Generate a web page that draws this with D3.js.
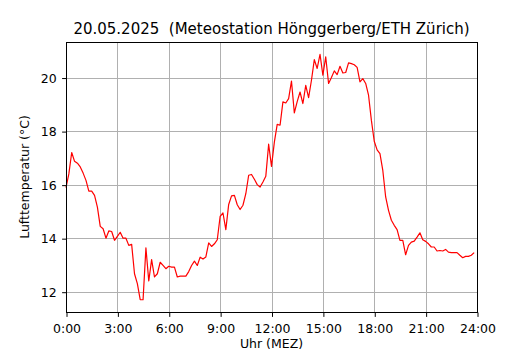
<!DOCTYPE html>
<html>
<head>
<meta charset="utf-8">
<script src="https://cdn.jsdelivr.net/npm/d3@7"></script>
<style>
  body { margin: 0; background: #fff; }
  svg text { font-family: "DejaVu Sans", sans-serif; fill: #000; white-space: pre; }
</style>
</head>
<body>
<div class="chart"></div>
<script>
// data: temperature every 10 minutes, 0:00 .. 23:50
var stepMinutes = 10;
var temps = [
	15.89, 16.40, 17.20, 16.87, 16.80, 16.66, 16.43, 16.16, 15.76, 15.76,
	15.60, 15.16, 14.44, 14.35, 14.00, 14.27, 14.25, 13.92, 14.07, 14.22,
	14.00, 14.00, 13.73, 13.77, 12.67, 12.30, 11.70, 11.70, 13.64, 12.40,
	13.20, 12.55, 12.67, 13.10, 12.98, 12.86, 12.95, 12.92, 12.92, 12.55,
	12.58, 12.58, 12.58, 12.75, 12.98, 13.14, 12.98, 13.29, 13.22, 13.30,
	13.82, 13.69, 13.79, 13.94, 14.81, 14.94, 14.32, 15.26, 15.58, 15.60,
	15.25, 15.07, 15.23, 15.66, 16.35, 16.38, 16.20, 16.00, 15.91, 16.10,
	16.31, 17.51, 16.68, 17.59, 18.25, 18.22, 19.09, 19.05, 19.21, 19.87,
	18.68, 19.10, 19.46, 19.03, 19.71, 19.25, 19.90, 20.67, 20.34, 20.87,
	20.09, 20.77, 19.78, 20.00, 20.25, 20.11, 20.42, 20.17, 20.19, 20.55,
	20.52, 20.48, 20.38, 19.84, 19.96, 19.78, 19.34, 18.40, 17.62, 17.30,
	17.16, 16.53, 15.54, 15.04, 14.67, 14.48, 14.32, 13.92, 13.92, 13.38,
	13.73, 13.85, 13.89, 14.04, 14.20, 13.94, 13.88, 13.79, 13.67, 13.67,
	13.52, 13.54, 13.52, 13.58, 13.48, 13.46, 13.46, 13.46, 13.36, 13.27,
	13.32, 13.32, 13.36, 13.46
];
var xTicks = [0, 3, 6, 9, 12, 15, 18, 21, 24];
var xTickLabels = ['0:00', '3:00', '6:00', '9:00', '12:00', '15:00', '18:00', '21:00', '24:00'];
var yTicks = [12, 14, 16, 18, 20];
var titleText = '20.05.2025  (Meteostation Hönggerberg/ETH Zürich)';
var xLabel = 'Uhr (MEZ)';
var yLabel = 'Lufttemperatur (°C)';

// options
var width = 530,
	height = 350;
var margin = { top: 42, right: 53, bottom: 38, left: 66 };
var plotW = width - margin.left - margin.right;
var plotH = height - margin.top - margin.bottom;
var lineColor = 'red';
var gridColor = '#b0b0b0';
var tickFont = 12.5;

var points = temps.map(function(t, i) {
	return { h: i * stepMinutes / 60, t: t };
});

// scales (matplotlib-like 5% padding on y)
var ext = d3.extent(temps);
var pad = (ext[1] - ext[0]) * 0.05;
var x = d3.scaleLinear().domain([0, 24]).range([0, plotW]);
var y = d3.scaleLinear().domain([ext[0] - pad, ext[1] + pad]).range([plotH, 0]);

var svg = d3.select('.chart')
	.append('svg')
	.attr('width', width)
	.attr('height', height);

var g = svg.append('g')
	.attr('transform', 'translate(' + margin.left + ',' + margin.top + ')');

// grid
g.append('g').attr('class', 'grid-x').selectAll('line')
	.data(xTicks)
	.enter()
	.append('line')
	.attr('x1', function(d) { return Math.round(x(d)) + 0.5; })
	.attr('x2', function(d) { return Math.round(x(d)) + 0.5; })
	.attr('y1', 0)
	.attr('y2', plotH)
	.attr('stroke', gridColor)
	.attr('stroke-width', 1);

g.append('g').attr('class', 'grid-y').selectAll('line')
	.data(yTicks)
	.enter()
	.append('line')
	.attr('x1', 0)
	.attr('x2', plotW)
	.attr('y1', function(d) { return Math.round(y(d)) + 0.5; })
	.attr('y2', function(d) { return Math.round(y(d)) + 0.5; })
	.attr('stroke', gridColor)
	.attr('stroke-width', 1);

// line
var line = d3.line()
	.x(function(d) { return x(d.h); })
	.y(function(d) { return y(d.t); });

g.append('path')
	.datum(points)
	.attr('d', line)
	.attr('fill', 'none')
	.attr('stroke', lineColor)
	.attr('stroke-width', 1.2)
	.attr('stroke-linejoin', 'round');

// frame
g.append('rect')
	.attr('x', 0.5)
	.attr('y', 0.5)
	.attr('width', plotW)
	.attr('height', plotH)
	.attr('fill', 'none')
	.attr('stroke', '#000')
	.attr('stroke-width', 1);

// axes
var xAxis = d3.axisBottom(x)
	.tickValues(xTicks)
	.tickFormat(function(d, i) { return xTickLabels[i]; })
	.tickSize(4.4)
	.tickPadding(7.3);

var yAxis = d3.axisLeft(y)
	.tickValues(yTicks)
	.tickFormat(d3.format('d'))
	.tickSize(4.4)
	.tickPadding(5.5);

var gx = g.append('g')
	.attr('transform', 'translate(0.5,' + (plotH + 0.5) + ')')
	.call(xAxis);
var gy = g.append('g')
	.attr('transform', 'translate(0.5,0.5)')
	.call(yAxis);

[gx, gy].forEach(function(ax) {
	ax.select('.domain').remove();
	ax.selectAll('text').attr('font-size', tickFont).attr('font-family', '"DejaVu Sans", sans-serif');
	ax.selectAll('line').attr('stroke', '#000');
});

// labels
svg.append('text')
	.attr('x', margin.left + plotW / 2)
	.attr('y', 34)
	.attr('text-anchor', 'middle')
	.attr('font-size', 15)
	.text(titleText);

svg.append('text')
	.attr('x', margin.left + plotW / 2)
	.attr('y', 347.5)
	.attr('text-anchor', 'middle')
	.attr('font-size', tickFont)
	.text(xLabel);

svg.append('text')
	.attr('transform', 'translate(29,' + (margin.top + plotH / 2) + ') rotate(-90)')
	.attr('text-anchor', 'middle')
	.attr('font-size', tickFont)
	.text(yLabel);
</script>
</body>
</html>
